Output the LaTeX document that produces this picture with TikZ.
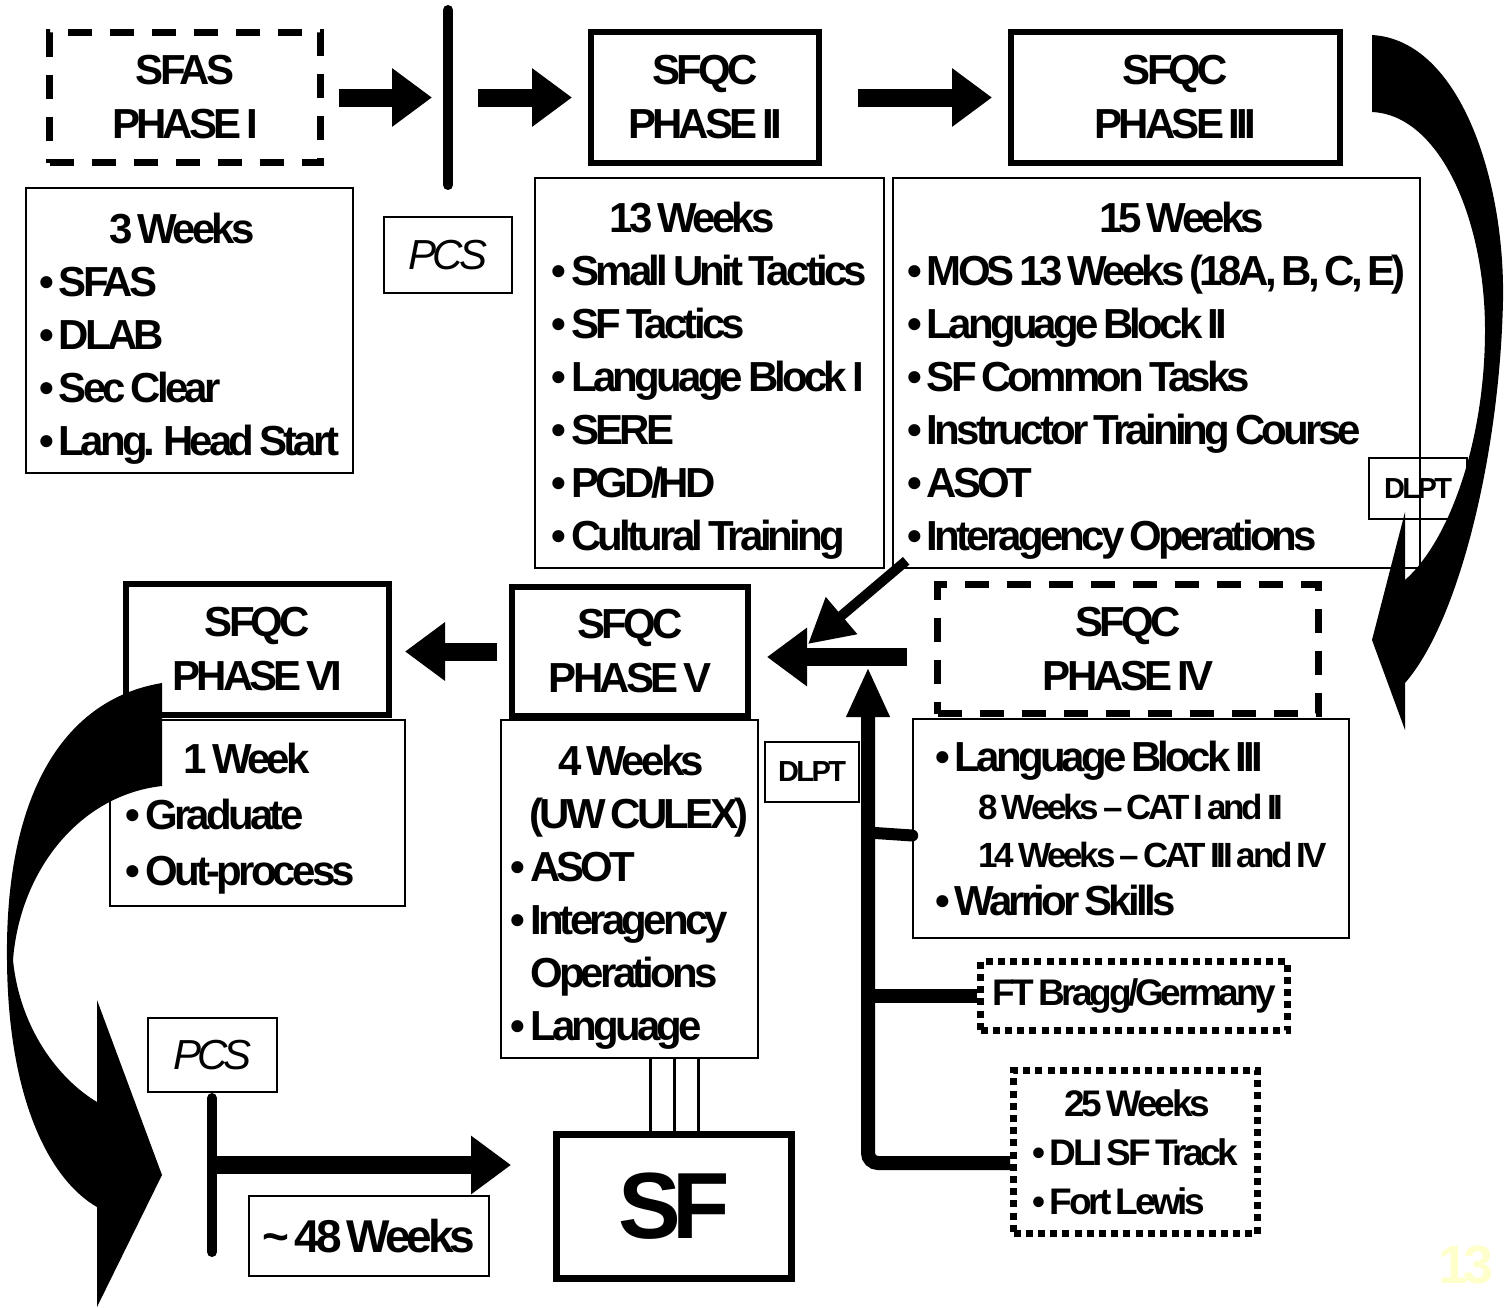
\documentclass[tikz,border=0pt]{standalone}
\usepackage{fontspec}
\setmainfont{Liberation Sans}[LetterSpace=-9, WordSpace=0.6]
\usetikzlibrary{positioning, arrows.meta, calc}
\definecolor{pagenum}{RGB}{255,255,204}

\begin{document}
\begin{tikzpicture}[
    x=0.5pt, y=-0.5pt,
    phase/.style={draw, line width=3pt, align=center, font=\bfseries\fontsize{21}{27}\selectfont},
    dashphase/.style={phase, line width=3.5pt, dash pattern=on 12pt off 9pt},
    info/.style={draw, line width=0.8pt, align=left, inner sep=0pt, font=\bfseries\fontsize{21}{26.5}\selectfont},
    dotinfo/.style={info, line width=3.5pt, dash pattern=on 3.5pt off 2.6pt, font=\bfseries\fontsize{18.5}{24.5}\selectfont},
    tag/.style={draw, line width=0.8pt, inner sep=0pt},
    blockarr/.style={line width=9pt, -{Triangle[length=20pt, width=28pt]}},
    thinarr/.style={line width=5pt, -{Triangle[length=22pt, width=23pt]}},
    bar/.style={line width=5pt, line cap=round},
    branch/.style={line width=7pt}
]

\fill[white] (0,0) rectangle (1509,1307);
\useasboundingbox (0,0) rectangle (1509,1307);

% Top row
\node[dashphase, minimum width=135.5pt, minimum height=65pt] (p1) at (185,97.5) {SFAS\\PHASE I};
\node[phase, minimum width=114pt, minimum height=65.5pt] (p2) at (705,97.5) {SFQC\\PHASE II};
\node[phase, minimum width=164.5pt, minimum height=65.5pt] (p3) at (1175.5,97.5) {SFQC\\PHASE III};

\coordinate (bar1a) at (448,10);
\coordinate (bar1b) at (448,185);
\draw[bar] (bar1a) -- (bar1b);

\draw[blockarr, shorten <=7.25pt, shorten >=8pt] (p1.east) -- (p1.east -| bar1a);
\draw[blockarr, shorten <=15pt, shorten >=8pt] (p1.east -| bar1a) -- (p2.west);
\draw[blockarr, shorten <=18pt, shorten >=8pt] (p2.east) -- (p3.west);

% Course content
\node[info, minimum width=163.5pt, minimum height=142.5pt] (w3) at (189.5,330.5) {
    \rule{0pt}{23pt}\hspace*{35pt}3 Weeks\\
    • SFAS\\
    • DLAB\\
    • Sec Clear\\
    • Lang. Head Start};
\node[tag, minimum width=64pt, minimum height=38pt, below=15.5pt of bar1b, font=\itshape\fontsize{21}{24}\selectfont] (pcs1) {PCS};
\node[info, minimum width=174.5pt, minimum height=195pt] (w13) at (709.5,373) {
    \rule{0pt}{23pt}\hspace*{29pt}13 Weeks\\
    • Small Unit Tactics\\
    • SF Tactics\\
    • Language Block I\\
    • SERE\\
    • PGD/HD\\
    • Cultural Training};
\node[info, minimum width=263.5pt, minimum height=195pt] (w15) at (1156.5,373) {
    \rule{0pt}{23pt}\hspace*{96pt}15 Weeks\\
    • MOS 13 Weeks (18A, B, C, E)\\
    • Language Block II\\
    • SF Common Tasks\\
    • Instructor Training Course\\
    • ASOT\\
    • Interagency Operations};
\node[tag, minimum width=49pt, minimum height=30.5pt, font=\bfseries\fontsize{14.5}{16}\selectfont] (dlpt1) at (1418,488.5) {DLPT};

% Curved arrow Phase III -> Phase IV
\fill (1372,35) .. controls (1460,40) and (1505,180) .. (1503,300)
    .. controls (1500,450) and (1460,620) .. (1405,683) -- (1405,730) -- (1372,640) -- (1405,512) -- (1405,580)
    .. controls (1450,540) and (1485,440) .. (1485,330)
    .. controls (1485,220) and (1440,115) .. (1372,112) -- cycle;

% Lower row
\node[phase, minimum width=131.5pt, minimum height=65.5pt] (p6) at (257.5,649.5) {SFQC\\PHASE VI};
\node[phase, minimum width=118pt, minimum height=64.5pt] (p5) at (630,651.5) {SFQC\\PHASE V};
\node[dashphase, minimum width=190.5pt, minimum height=64.5pt] (p4) at (1128,649) {SFQC\\PHASE IV};

\node[info, minimum width=147.5pt, minimum height=93pt, font=\bfseries\fontsize{21}{28}\selectfont] (w1) at (257.5,813) {
    \rule{0pt}{21pt}\hspace*{29pt}1 Week\\
    • Graduate\\
    • Out-process\hspace*{17pt}};
\node[info, minimum width=128.5pt, minimum height=169pt] (w4) at (629.5,889) {
    \rule{0pt}{23pt}\hspace*{24pt}4 Weeks\\
    \hspace*{9.5pt}(UW CULEX)\\
    • ASOT\\
    • Interagency\\
    \phantom{• }Operations\\
    • Language};
\node[tag, minimum width=47pt, minimum height=30pt, font=\bfseries\fontsize{14.5}{16}\selectfont] (dlpt2) at (812,772) {DLPT};
\node[info, minimum width=218pt, minimum height=109.5pt, font=\bfseries\fontsize{21}{24}\selectfont] (lang3) at (1131,828.5) {
    • Language Block III\\
    {\fontsize{17.5}{24}\selectfont\hspace*{21.5pt}8 Weeks – CAT I and II}\\
    {\fontsize{17.5}{24}\selectfont\hspace*{21.5pt}14 Weeks – CAT III and IV}\\
    • Warrior Skills};
\node[dotinfo, align=center, minimum width=153.5pt, minimum height=34.5pt] (bragg) at (1134,996) {FT Bragg/Germany};
\node[dotinfo, minimum width=122pt, minimum height=81.5pt] (d25) at (1135.5,1152) {
    \hspace*{16pt}25 Weeks\\
    • DLI SF Track\\
    • Fort Lewis};

% Arrows into Phase V and VI
\coordinate (jn) at (907,657);
\coordinate (trunk) at (868,1163);
\draw[thinarr] ([shift={(14,-8)}]w15.south west) -- ([shift={(57,60)}]p5.north east);
\draw[blockarr, shorten >=8pt] (jn) -- (jn -| p5.east);
\draw[branch, rounded corners=5pt, shorten >=5pt, -{Triangle[length=25pt, width=20pt]}] ([yshift=-5.5pt]d25.west) -- (trunk) -- (trunk |- jn);
\draw[branch] (bragg.west) -- (bragg.west -| trunk);
\draw[line width=6pt, line cap=round] ([yshift=-3.5pt]lang3.west) -- ([yshift=-2pt]lang3.west -| trunk);
\draw[blockarr, shorten <=6pt, shorten >=6.5pt] (p5.west) -- (p5.west -| p6.east);

% Curved arrow Phase VI -> SF
\fill (162,683) .. controls (60,700) and (5,800) .. (7,960)
    .. controls (8,1100) and (50,1180) .. (97,1207) -- (97,1307) -- (162,1175) -- (97,1000) -- (97,1102)
    .. controls (60,1080) and (20,1030) .. (13,960)
    .. controls (20,870) and (80,795) .. (162,786) -- cycle;

% Bottom row
\node[tag, minimum width=64.5pt, minimum height=37pt, font=\itshape\fontsize{21}{24}\selectfont] (pcs2) at (212.5,1055) {PCS};
\coordinate (bar2a) at (212,1098);
\coordinate (bar2b) at (212,1252);
\coordinate (bar2m) at (212,1165);
\draw[bar] (bar2a) -- (bar2b);
\node[tag, minimum width=120pt, minimum height=40pt, font=\bfseries\fontsize{23}{26}\selectfont] (wk48) at (369,1236) {\textasciitilde\ 48 Weeks};
\node[phase, line width=3.5pt, minimum width=117.5pt, minimum height=72pt, font=\bfseries\fontsize{47}{50}\selectfont] (sf) at (674,1206.5) {SF};
\draw[blockarr, shorten >=21pt] (bar2m) -- (bar2m -| sf.west);
\foreach \dx in {20.5,44.5,68.5}
    \draw[line width=1.5pt] ([shift={(\dx,0)}]w4.south) -- ([shift={(\dx,0)}]w4.south |- sf.north);

\node[font=\bfseries\fontsize{27}{30}\selectfont, text=pagenum] (pgno) at (1466,1265) {13};

\end{tikzpicture}
\end{document}
